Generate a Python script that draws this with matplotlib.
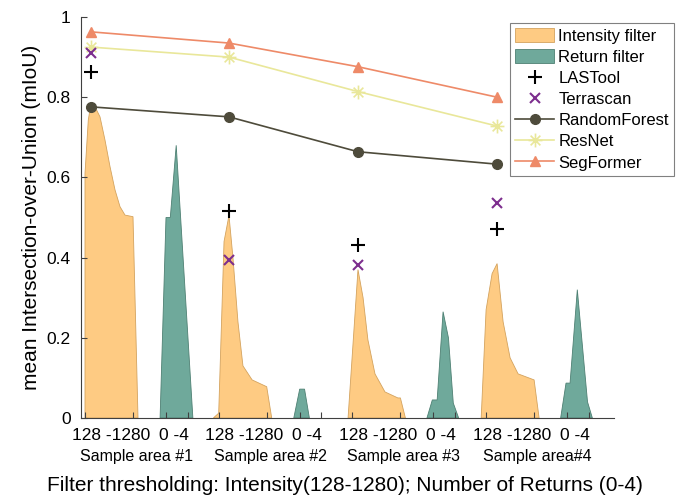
import matplotlib.pyplot as plt
from matplotlib.patches import Patch
from matplotlib.lines import Line2D
from matplotlib.path import Path

plt.rcParams['font.family'] = ['Liberation Sans', 'DejaVu Sans']

# dados
areas = ['Sample area #1', 'Sample area #2', 'Sample area #3', 'Sample area#4']
int_label = '128 -1280'
ret_label = '0 -4'

# filtro de intensidade: limiar (128-1280) x mIoU
int_thr = [
    [128, 128, 207, 265, 368, 488, 608, 728, 848, 968, 1088, 1280, 1400],
    [0, 128, 256, 375, 470, 590, 710, 930, 1280, 1400],
    [24, 262, 384, 500, 670, 910, 1220, 1280, 1400],
    [10, 128, 272, 392, 536, 704, 896, 1280, 1400],
]
int_miou = [
    [0, 0.61, 0.743, 0.78, 0.776, 0.751, 0.693, 0.627, 0.569, 0.527, 0.506, 0.502, 0],
    [0, 0.012, 0.44, 0.505, 0.40, 0.24, 0.13, 0.095, 0.078, 0],
    [0, 0.37, 0.30, 0.195, 0.11, 0.065, 0.05, 0.05, 0],
    [0, 0.27, 0.36, 0.385, 0.24, 0.15, 0.11, 0.095, 0],
]

# filtro de retornos: numero de retornos (0-4) x mIoU
ret_num = [
    [-1.1, 0, 0.8, 1.9, 5.0],
    [-1.1, 0, 0.9, 1.8],
    [-1.2, -0.2, 0.7, 1.8, 2.8, 3.7, 4.7],
    [-1.2, -0.2, 0.55, 1.9, 3.8, 4.7],
]
ret_miou = [
    [0, 0.5, 0.5, 0.68, 0],
    [0, 0.072, 0.072, 0],
    [0, 0.045, 0.045, 0.265, 0.20, 0.037, 0],
    [0, 0.087, 0.087, 0.32, 0.04, 0],
]

# melhor limiar de intensidade em cada area e os metodos
best_thr = [265, 375, 262, 392]
lastool = [0.863, 0.515, 0.431, 0.471]
terrascan = [0.909, 0.394, 0.381, 0.537]
randomforest = [0.776, 0.751, 0.664, 0.633]
resnet = [0.925, 0.90, 0.814, 0.728]
segformer = [0.963, 0.935, 0.876, 0.80]

# posicoes no eixo x (cada area ocupa um bloco)
passo = 133.7
larg_int = 48.0
ini_ret = 81.0
larg_ret = 21.5

def pos_int(g, t):
    return g * passo + (t - 128) / 1152.0 * larg_int

def pos_ret(g, r):
    return g * passo + ini_ret + r / 4.0 * larg_ret

cor_int = '#FECB83'
cor_int_borda = '#D4A35E'
cor_ret = '#6FA99B'
cor_ret_borda = '#4E8073'
cor_seg = '#EE8A68'
cor_res = '#E9E79A'
cor_rf = '#4E4B3B'
cor_terra = '#7D2E8E'

# asterisco estilo matlab
asterisco = Path([(-1, 0), (1, 0), (0, -1), (0, 1), (-.7, -.7), (.7, .7), (-.7, .7), (.7, -.7)],
                 [Path.MOVETO, Path.LINETO] * 4)

fig = plt.figure(figsize=(6.84, 4.97), dpi=100)
ax = fig.add_axes([81 / 684, 79 / 497, 533 / 684, 401 / 497])

for g in range(4):
    xs = [pos_int(g, t) for t in int_thr[g]]
    ax.fill(xs, int_miou[g], facecolor=cor_int, edgecolor=cor_int_borda, linewidth=0.6, zorder=1)
    xs = [pos_ret(g, r) for r in ret_num[g]]
    ax.fill(xs, ret_miou[g], facecolor=cor_ret, edgecolor=cor_ret_borda, linewidth=0.6, zorder=1)

xm = [pos_int(g, best_thr[g]) for g in range(4)]
ax.plot(xm, lastool, '+', color='black', ms=10, mew=1.5, zorder=4)
ax.plot(xm, terrascan, 'x', color=cor_terra, ms=7, mew=1.5, zorder=4)
ax.plot(xm, randomforest, '-o', color=cor_rf, ms=7, lw=1.2, zorder=3)
ax.plot(xm, resnet, '-', color=cor_res, marker=asterisco, mfc='none', ms=10, mew=1.2, lw=1.2, zorder=3)
ax.plot(xm, segformer, '-^', color=cor_seg, ms=7, lw=1.2, zorder=3)

ax.set_xlim(-4, 529)
ax.set_ylim(0, 1)
ax.set_yticks([0, 0.2, 0.4, 0.6, 0.8, 1.0])
ax.set_yticklabels(['0', '0.2', '0.4', '0.6', '0.8', '1'])

# ticks nas bordas dos limiares e rotulos entre eles
ticks = []
rotulos_pos = []
rotulos = []
for g in range(4):
    a, b = pos_int(g, 128), pos_int(g, 1280)
    c, d = pos_ret(g, 0), pos_ret(g, 4)
    ticks += [a, b, c, d]
    rotulos_pos += [a + 0.54 * (b - a), c + 0.35 * (d - c)]
    rotulos += [int_label, ret_label]
ax.set_xticks(ticks)
ax.set_xticklabels([''] * len(ticks))
ax.set_xticks(rotulos_pos, minor=True)
ax.set_xticklabels(rotulos, minor=True, fontsize=12.5)
ax.tick_params(axis='x', which='minor', length=0, pad=7.5)
ax.tick_params(axis='both', which='major', direction='in', length=4, labelsize=12.5, pad=7.5, color='#404040')

for g in range(4):
    centro = (pos_int(g, 128) + pos_ret(g, 4)) / 2
    ax.text(centro, -0.097, areas[g], transform=ax.get_xaxis_transform(),
            ha='center', va='center', fontsize=11.5)

ax.set_xlabel('Filter thresholding: Intensity(128-1280); Number of Returns (0-4)', fontsize=15)
ax.xaxis.set_label_coords(0.495, -0.145)
ax.set_ylabel('mean Intersection-over-Union (mIoU)', fontsize=15)

for lado in ['top', 'right']:
    ax.spines[lado].set_visible(False)
for lado in ['left', 'bottom']:
    ax.spines[lado].set_color('#404040')
    ax.spines[lado].set_linewidth(0.8)

handles = [
    Patch(facecolor=cor_int, edgecolor=cor_int_borda, linewidth=0.6),
    Patch(facecolor=cor_ret, edgecolor=cor_ret_borda, linewidth=0.6),
    Line2D([], [], ls='none', marker='+', color='black', ms=10, mew=1.5),
    Line2D([], [], ls='none', marker='x', color=cor_terra, ms=7, mew=1.5),
    Line2D([], [], marker='o', color=cor_rf, ms=7, lw=1.2),
    Line2D([], [], marker=asterisco, mfc='none', color=cor_res, ms=10, mew=1.2, lw=1.2),
    Line2D([], [], marker='^', color=cor_seg, ms=7, lw=1.2),
]
nomes = ['Intensity filter', 'Return filter', 'LASTool', 'Terrascan', 'RandomForest', 'ResNet', 'SegFormer']
leg = fig.legend(handles, nomes, loc='upper right', bbox_to_anchor=(674 / 684, 474 / 497),
                 fontsize=12, frameon=True, fancybox=False, framealpha=1, edgecolor='#808080',
                 handlelength=2.35, handleheight=0.9, handletextpad=0.25, labelspacing=0.33,
                 borderpad=0.3, borderaxespad=0)
leg.get_frame().set_linewidth(0.8)

fig.savefig('out.png', dpi=100)
